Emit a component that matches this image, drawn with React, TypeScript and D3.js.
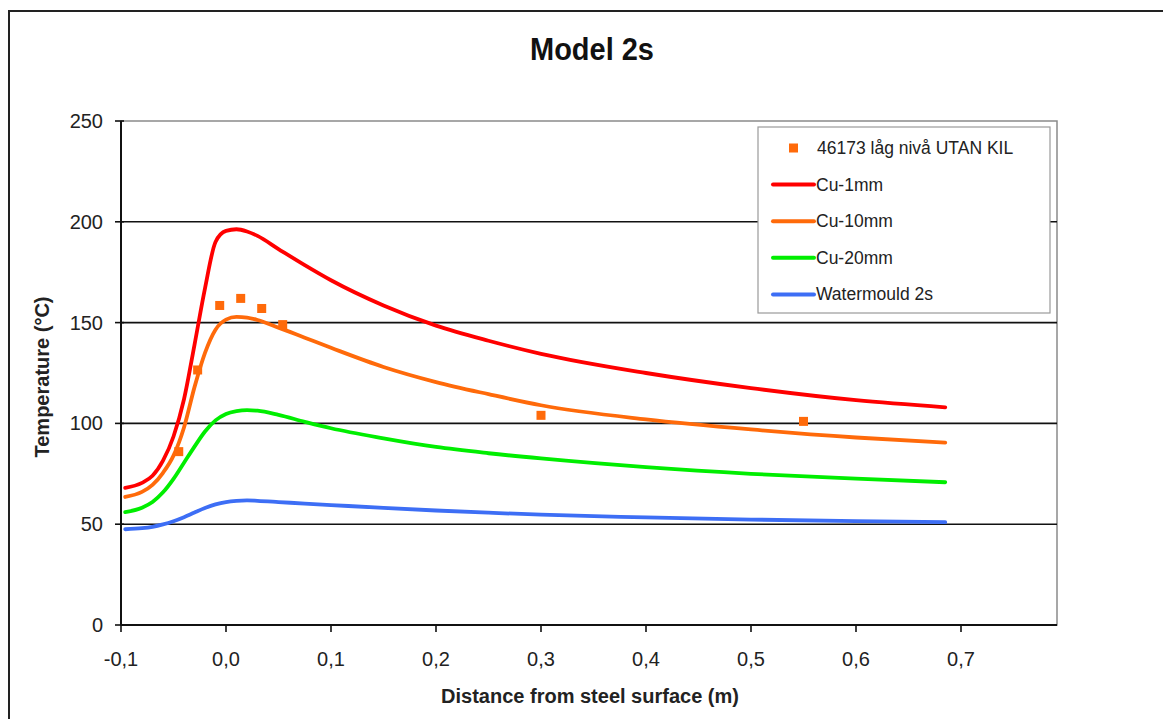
import React from "react";
import * as d3 from "d3";

// Distance from the steel surface (m), shared by all simulated curves
const distance = [-0.096, -0.08, -0.07, -0.06, -0.05, -0.04, -0.03, -0.02, -0.01, 0, 0.01, 0.02, 0.03, 0.05, 0.075, 0.1, 0.15, 0.2, 0.25, 0.3, 0.4, 0.5, 0.6, 0.685];

// Simulated temperatures (°C)
const cu1mm = [68, 70.5, 74, 81.5, 93.5, 112, 139, 167, 190, 195.5, 196.3, 195.2, 193, 186.5, 178.5, 171, 158.5, 148.5, 141, 134.5, 125, 117.5, 111.5, 108];
const cu10mm = [63.5, 66, 69.5, 75.5, 84, 98, 118, 135, 146.5, 151.5, 152.8, 152.5, 151.3, 147.5, 142.5, 137.5, 128, 120.5, 114.5, 109, 102, 97, 93, 90.5];
const cu20mm = [56, 58.2, 61, 65.8, 72.5, 80.5, 88.5, 96, 101.5, 104.7, 106.1, 106.6, 106.3, 104.2, 100.8, 97.6, 92.6, 88.3, 85.2, 82.6, 78.3, 75, 72.6, 70.8];
const watermould = [47.5, 48, 48.7, 49.9, 51.5, 53.5, 55.8, 58, 59.8, 61, 61.6, 61.8, 61.6, 61, 60.2, 59.5, 58.1, 56.8, 55.7, 54.7, 53.4, 52.3, 51.5, 51];

// Measured points
const measuredX = [-0.045, -0.027, -0.006, 0.014, 0.034, 0.054, 0.3, 0.55];
const measuredY = [86, 126.5, 158.5, 162, 157, 149, 104, 101];

const xTicks = [-0.1, 0, 0.1, 0.2, 0.3, 0.4, 0.5, 0.6, 0.7];
const yTicks = [0, 50, 100, 150, 200, 250];

const seriesNames = ["Cu-1mm", "Cu-10mm", "Cu-20mm", "Watermould 2s"];
const seriesColors = ["#ff0000", "#ff6a0a", "#00ee00", "#3d6ef5"];
const measuredName = "46173 låg nivå UTAN KIL";
const measuredColor = "#ff6a0a";

const W = 1163;
const H = 719;
const plot = { left: 121, top: 121, right: 1057, bottom: 625 };
const font = "'Liberation Sans', Arial, sans-serif";

export default function App() {
  const x = d3.scaleLinear().domain([-0.1, 0.7]).range([plot.left, 961]);
  const y = d3.scaleLinear().domain([0, 250]).range([plot.bottom, plot.top]);

  const line = d3
    .line<number>()
    .x((_, i) => x(distance[i]))
    .y((v) => y(v))
    .curve(d3.curveMonotoneX);

  const series = [cu1mm, cu10mm, cu20mm, watermould];
  const fmt = (v: number) => d3.format(".1f")(v).replace(".", ",").replace("−", "-");

  const legend = { x: 758, y: 127, w: 292, h: 186 };
  const rowY = (i: number) => legend.y + 21 + i * 36.6;

  return (
    <svg
      width={W}
      height={H}
      style={{ position: "absolute", left: 0, top: 0, background: "#fff" }}
      fontFamily={font}
    >
      {/* chart frame */}
      <rect x={9} y={11} width={W + 20} height={H + 20} fill="#fff" stroke="#222" strokeWidth={2} />

      <text x={592} y={60} textAnchor="middle" fontSize={31} fontWeight="bold" textLength={124} lengthAdjust="spacingAndGlyphs" fill="#111">
        Model 2s
      </text>

      {/* plot area border */}
      <rect
        x={plot.left}
        y={plot.top}
        width={plot.right - plot.left}
        height={plot.bottom - plot.top}
        fill="#fff"
        stroke="#8a8a8a"
        strokeWidth={1.5}
      />

      {/* gridlines */}
      {yTicks.filter((t) => t > 0 && t < 250).map((t) => (
        <line key={t} x1={plot.left} x2={plot.right} y1={y(t)} y2={y(t)} stroke="#111" strokeWidth={1.6} />
      ))}

      {/* axes */}
      <line x1={plot.left} x2={plot.left} y1={plot.top} y2={plot.bottom} stroke="#111" strokeWidth={2} />
      <line x1={plot.left} x2={plot.right} y1={plot.bottom} y2={plot.bottom} stroke="#111" strokeWidth={2} />

      {yTicks.map((t) => (
        <g key={t}>
          <line x1={plot.left - 6} x2={plot.left + 3} y1={y(t)} y2={y(t)} stroke="#111" strokeWidth={1.6} />
          <text x={103} y={y(t) + 7} textAnchor="end" fontSize={20} fill="#222">
            {t}
          </text>
        </g>
      ))}

      {xTicks.map((t) => (
        <g key={t}>
          <line x1={x(t)} x2={x(t)} y1={plot.bottom} y2={plot.bottom + 7} stroke="#111" strokeWidth={1.6} />
          <text x={x(t)} y={666} textAnchor="middle" fontSize={20} fill="#222">
            {fmt(t)}
          </text>
        </g>
      ))}

      <text x={590} y={703} textAnchor="middle" fontSize={20} fontWeight="bold" fill="#222">
        Distance from steel surface (m)
      </text>
      <text
        transform={`translate(49,377) rotate(-90)`}
        textAnchor="middle"
        fontSize={20}
        fontWeight="bold"
        fill="#222"
      >
        Temperature (°C)
      </text>

      {/* simulated curves */}
      {series.map((vals, i) => (
        <path
          key={seriesNames[i]}
          d={line(vals) || ""}
          fill="none"
          stroke={seriesColors[i]}
          strokeWidth={3.8}
          strokeLinecap="round"
          strokeLinejoin="round"
        />
      ))}

      {/* measured points */}
      {measuredX.map((mx, i) => (
        <rect key={i} x={x(mx) - 4.5} y={y(measuredY[i]) - 4.5} width={9} height={9} fill={measuredColor} />
      ))}

      {/* legend */}
      <rect x={legend.x} y={legend.y} width={legend.w} height={legend.h} fill="#fff" stroke="#9a9a9a" strokeWidth={1.2} />
      <rect x={789} y={rowY(0) - 4.5} width={9} height={9} fill={measuredColor} />
      <text x={817} y={rowY(0) + 6} fontSize={17.5} fill="#222">
        {measuredName}
      </text>
      {seriesNames.map((name, i) => (
        <g key={name}>
          <line x1={773} x2={814} y1={rowY(i + 1)} y2={rowY(i + 1)} stroke={seriesColors[i]} strokeWidth={4} strokeLinecap="round" />
          <text x={816} y={rowY(i + 1) + 6} fontSize={17.5} fill="#222">
            {name}
          </text>
        </g>
      ))}
    </svg>
  );
}
